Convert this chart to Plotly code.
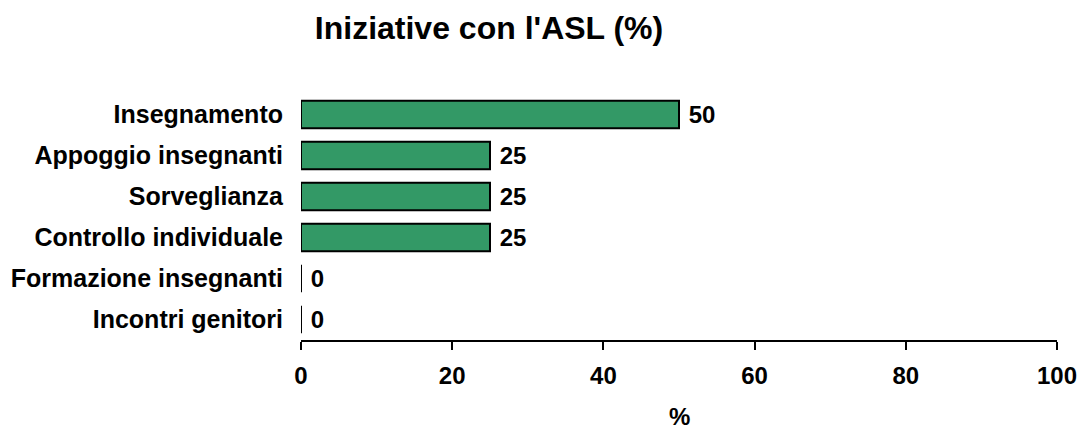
import plotly.graph_objects as go

categories = ["Insegnamento", "Appoggio insegnanti", "Sorveglianza",
              "Controllo individuale", "Formazione insegnanti", "Incontri genitori"]
values = [50, 25, 25, 25, 0, 0]
tick_vals = [0, 20, 40, 60, 80, 100]
x_title = "%"

font_family = "Liberation Sans, Arial, sans-serif"

W, H = 1082, 432

fig = go.Figure(go.Bar(
    x=values,
    y=categories,
    orientation="h",
    width=0.67,
    marker=dict(color="#339966", line=dict(color="black", width=2)),
    text=[f"<b> {v}</b>" for v in values],
    textposition="outside",
    textfont=dict(family=font_family, size=24, color="black"),
    cliponaxis=False,
))

fig.update_layout(
    width=W, height=H,
    margin=dict(l=301, r=25, t=94, b=92),
    paper_bgcolor="white", plot_bgcolor="white",
    font=dict(family=font_family, size=25, color="black"),
    title=dict(text="<b>Iniziative con l'ASL (%)</b>", x=489 / W, xanchor="center",
               xref="container", yref="container",
               y=1 - 28 / H, yanchor="middle", font=dict(size=32, family=font_family)),
    showlegend=False,
    annotations=[dict(text=f"<b>{x_title}</b>", xref="paper", yref="paper",
                      x=0.5, y=-0.31, xanchor="center", yanchor="middle",
                      showarrow=False, font=dict(size=24, color="black"))],
)
fig.update_xaxes(
    range=[0, 100], tickvals=tick_vals, ticktext=[f"<b>{t}</b>" for t in tick_vals],
    showline=True, linecolor="black", linewidth=2,
    ticks="outside", ticklen=8, tickwidth=2, tickcolor="black",
    showgrid=False, zeroline=False, automargin=False,
    ticklabelstandoff=5, tickfont=dict(size=24), ticklabeloverflow="allow",
)
fig.update_yaxes(
    categoryorder="array", categoryarray=categories[::-1],
    tickvals=categories, ticktext=[f"<b>{c}</b>" for c in categories],
    showline=False, showgrid=False, ticks="", zeroline=False,
    automargin=False, ticklabelstandoff=17, tickfont=dict(size=25),
)

fig.write_html(
    "out.html",
    config={"displayModeBar": False},
    post_script="document.body.style.margin='0px';document.body.style.overflow='hidden';",
)
